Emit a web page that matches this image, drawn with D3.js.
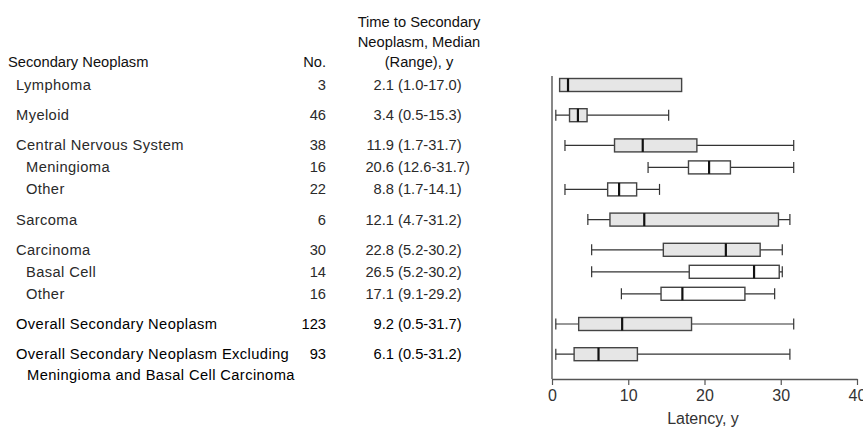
<!DOCTYPE html>
<html>
<head>
<meta charset="utf-8">
<script src="https://cdn.jsdelivr.net/npm/d3@7"></script>
<style>
  body { margin: 0; background: #fff; }
  svg text { font-family: "Liberation Sans", Arial, sans-serif; }
</style>
</head>
<body>
<svg id="chart"></svg>
<script>
// row labels, counts and medians as printed in the table
let labels = ["Lymphoma", "Myeloid", "Central Nervous System", "Meningioma", "Other",
  "Sarcoma", "Carcinoma", "Basal Cell", "Other", "Overall Secondary Neoplasm",
  "Overall Secondary Neoplasm Excluding"];
let subRow = [false, false, false, true, true, false, false, true, true, false, false];
let overallRow = [false, false, false, false, false, false, false, false, false, true, true];
let counts = ["3", "46", "38", "16", "22", "6", "30", "14", "16", "123", "93"];
let medianText = ["2.1", "3.4", "11.9", "20.6", "8.8", "12.1", "22.8", "26.5", "17.1", "9.2", "6.1"];
let rangeText = ["(1.0-17.0)", "(0.5-15.3)", "(1.7-31.7)", "(12.6-31.7)", "(1.7-14.1)",
  "(4.7-31.2)", "(5.2-30.2)", "(5.2-30.2)", "(9.1-29.2)", "(0.5-31.7)", "(0.5-31.2)"];

// box plot values (years)
let mins    = [1.0, 0.5, 1.7, 12.6, 1.7, 4.7, 5.2, 5.2, 9.1, 0.5, 0.5];
let q1s     = [1.0, 2.3, 8.2, 17.9, 7.3, 7.6, 14.6, 18.0, 14.3, 3.5, 2.9];
let medians = [2.1, 3.4, 11.9, 20.6, 8.8, 12.1, 22.8, 26.5, 17.1, 9.2, 6.1];
let q3s     = [17.0, 4.6, 19.0, 23.4, 11.1, 29.7, 27.3, 29.8, 25.3, 18.3, 11.2];
let maxs    = [17.0, 15.3, 31.7, 31.7, 14.1, 31.2, 30.2, 30.2, 29.2, 31.7, 31.2];
let shaded  = [true, true, true, false, false, true, true, false, false, true, true];

let xTicks = [0, 10, 20, 30, 40];

let width = 863, height = 428;
let svg = d3.select("#chart").attr("width", width).attr("height", height);

// rows within a group are closer together than group rows
let rowY = [];
let yy = 85;
labels.forEach((l, i) => {
  if (i > 0) yy += subRow[i] ? 22 : 30.2;
  rowY.push(yy);
});

let rows = labels.map((l, i) => ({
  label: l, sub: subRow[i], overall: overallRow[i], n: counts[i],
  med: medianText[i], range: rangeText[i],
  min: mins[i], q1: q1s[i], median: medians[i], q3: q3s[i], max: maxs[i],
  shaded: shaded[i], y: rowY[i]
}));

let x = d3.scaleLinear().domain([0, 40]).range([552, 857]);
let fs = "14.7px";
let textCol = "#2a2a2a";

// headers
let head = svg.append("g").attr("font-size", fs).attr("fill", "#111");
head.append("text").attr("x", 8).attr("y", 67).text("Secondary Neoplasm");
head.append("text").attr("x", 326).attr("y", 67).attr("text-anchor", "end").text("No.");
["Time to Secondary", "Neoplasm, Median", "(Range), y"].forEach((t, i) => {
  head.append("text").attr("x", 419).attr("y", 27 + i * 20)
    .attr("text-anchor", "middle").text(t);
});

// table
let table = svg.append("g").attr("font-size", fs);
let tr = table.selectAll("g.row").data(rows).enter().append("g")
  .attr("class", "row")
  .attr("fill", (d) => d.overall ? "#000" : textCol);

tr.append("text")
  .attr("x", (d) => d.sub ? 26 : 16)
  .attr("y", (d) => d.y + 5)
  .attr("letter-spacing", "0.4px")
  .text((d) => d.label);
tr.append("text")
  .attr("x", 326).attr("y", (d) => d.y + 5)
  .attr("text-anchor", "end")
  .text((d) => d.n);
tr.append("text")
  .attr("x", 394).attr("y", (d) => d.y + 5)
  .attr("text-anchor", "end")
  .text((d) => d.med);
tr.append("text")
  .attr("x", 398).attr("y", (d) => d.y + 5)
  .text((d) => d.range);

// second line of the last label
table.append("text")
  .attr("x", 27).attr("y", rows[rows.length - 1].y + 26)
  .attr("fill", "#000")
  .attr("letter-spacing", "0.4px")
  .text("Meningioma and Basal Cell Carcinoma");

// box plots
let boxH = 13, capH = 11;
let plot = svg.append("g");
let bp = plot.selectAll("g.box").data(rows).enter().append("g").attr("class", "box");

bp.append("line")
  .attr("x1", (d) => x(d.min)).attr("x2", (d) => x(d.max))
  .attr("y1", (d) => d.y).attr("y2", (d) => d.y)
  .attr("stroke", "#333").attr("stroke-width", 1.2);
bp.filter((d) => d.min < d.q1).append("line")
  .attr("x1", (d) => x(d.min)).attr("x2", (d) => x(d.min))
  .attr("y1", (d) => d.y - capH / 2).attr("y2", (d) => d.y + capH / 2)
  .attr("stroke", "#333").attr("stroke-width", 1.2);
bp.filter((d) => d.max > d.q3).append("line")
  .attr("x1", (d) => x(d.max)).attr("x2", (d) => x(d.max))
  .attr("y1", (d) => d.y - capH / 2).attr("y2", (d) => d.y + capH / 2)
  .attr("stroke", "#333").attr("stroke-width", 1.2);
bp.append("rect")
  .attr("x", (d) => x(d.q1)).attr("width", (d) => x(d.q3) - x(d.q1))
  .attr("y", (d) => d.y - boxH / 2).attr("height", boxH)
  .attr("fill", (d) => d.shaded ? "#e6e6e6" : "#fff")
  .attr("stroke", "#444").attr("stroke-width", 1.4);
bp.append("line")
  .attr("x1", (d) => x(d.median)).attr("x2", (d) => x(d.median))
  .attr("y1", (d) => d.y - boxH / 2).attr("y2", (d) => d.y + boxH / 2)
  .attr("stroke", "#111").attr("stroke-width", 2.2);

// axes
let axisY = 379;
svg.append("line")
  .attr("x1", x(0)).attr("x2", x(0)).attr("y1", 76).attr("y2", axisY)
  .attr("stroke", "#555").attr("stroke-width", 1.4);

let xAxis = svg.append("g")
  .attr("transform", `translate(0,${axisY})`)
  .call(d3.axisBottom(x).tickValues(xTicks).tickSize(6).tickPadding(5).tickSizeOuter(0));
xAxis.select(".domain").attr("stroke", "#555").attr("stroke-width", 1.4);
xAxis.selectAll(".tick line").attr("stroke", "#555").attr("stroke-width", 1.2);
xAxis.selectAll(".tick text")
  .attr("font-size", "16px").attr("fill", "#333")
  .style("font-family", "'Liberation Sans', Arial, sans-serif");

svg.append("text")
  .attr("x", 703).attr("y", 424)
  .attr("text-anchor", "middle")
  .attr("font-size", "16px").attr("fill", "#333")
  .text("Latency, y");
</script>
</body>
</html>
